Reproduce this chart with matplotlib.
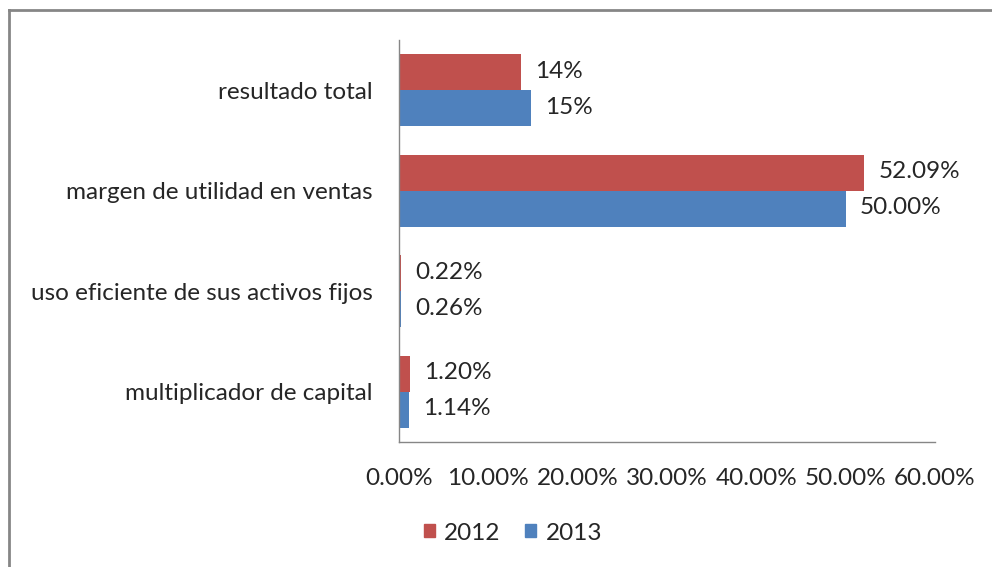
import matplotlib.pyplot as plt
from matplotlib.lines import Line2D
from matplotlib.patches import Patch
import numpy as np

plt.rcParams['font.family'] = ['Lato', 'DejaVu Sans']

categories = ['resultado total', 'margen de utilidad en ventas',
              'uso eficiente de sus activos fijos', 'multiplicador de capital']
vals_2012 = [0.137, 0.5209, 0.0022, 0.0120]
vals_2013 = [0.148, 0.5000, 0.0026, 0.0114]
labels_2012 = ['14%', '52.09%', '0.22%', '1.20%']
labels_2013 = ['15%', '50.00%', '0.26%', '1.14%']
xticks = [0, 0.1, 0.2, 0.3, 0.4, 0.5, 0.6]

red = '#C0504D'
blue = '#4F81BD'
grey = '#868686'
txt = '#262626'
fs = 17.5

fig = plt.figure(figsize=(9.92, 5.67), dpi=100)
ax = fig.add_axes([0.4022, 0.2205, 0.5403, 0.709])

y = np.arange(len(categories))
h = 0.36
b12 = ax.barh(y - h / 2, vals_2012, height=h, color=red)
b13 = ax.barh(y + h / 2, vals_2013, height=h, color=blue)

for bars, labs in [(b12, labels_2012), (b13, labels_2013)]:
    for rect, lab in zip(bars, labs):
        ax.annotate(lab, (rect.get_width(), rect.get_y() + rect.get_height() / 2),
                    xytext=(14, 1), textcoords='offset pixels',
                    va='center', ha='left', fontsize=fs, color=txt)

ax.set_xlim(0, 0.6)
ax.set_ylim(len(categories) - 0.5, -0.5)
ax.set_yticks(y)
ax.set_yticklabels(categories, fontsize=fs, color=txt)
ax.set_xticks(xticks)
ax.set_xticklabels(['%.2f%%' % (v * 100) for v in xticks], fontsize=fs, color=txt)
ax.tick_params(axis='both', length=0)
ax.tick_params(axis='y', pad=19)
ax.tick_params(axis='x', pad=19)
for s in ['top', 'right']:
    ax.spines[s].set_visible(False)
for s in ['left', 'bottom']:
    ax.spines[s].set_color(grey)
    ax.spines[s].set_linewidth(1)

handles = [Patch(color=red, label='2012'), Patch(color=blue, label='2013')]
fig.legend(handles=handles, loc='center', bbox_to_anchor=(513 / 992, 1 - 533 / 567),
           ncol=2, frameon=False, fontsize=fs, handlelength=0.45, handleheight=0.45,
           handletextpad=0.4, columnspacing=1.0, labelcolor=txt)

# outer chart frame (only top/left edge visible in the crop)
fig.add_artist(Line2D([9 / 992, 1], [1 - 10 / 567] * 2, color=grey, lw=2,
                      transform=fig.transFigure))
fig.add_artist(Line2D([9 / 992] * 2, [0, 1 - 10 / 567], color=grey, lw=2,
                      transform=fig.transFigure))

fig.savefig('out.png', dpi=100, facecolor='white')
